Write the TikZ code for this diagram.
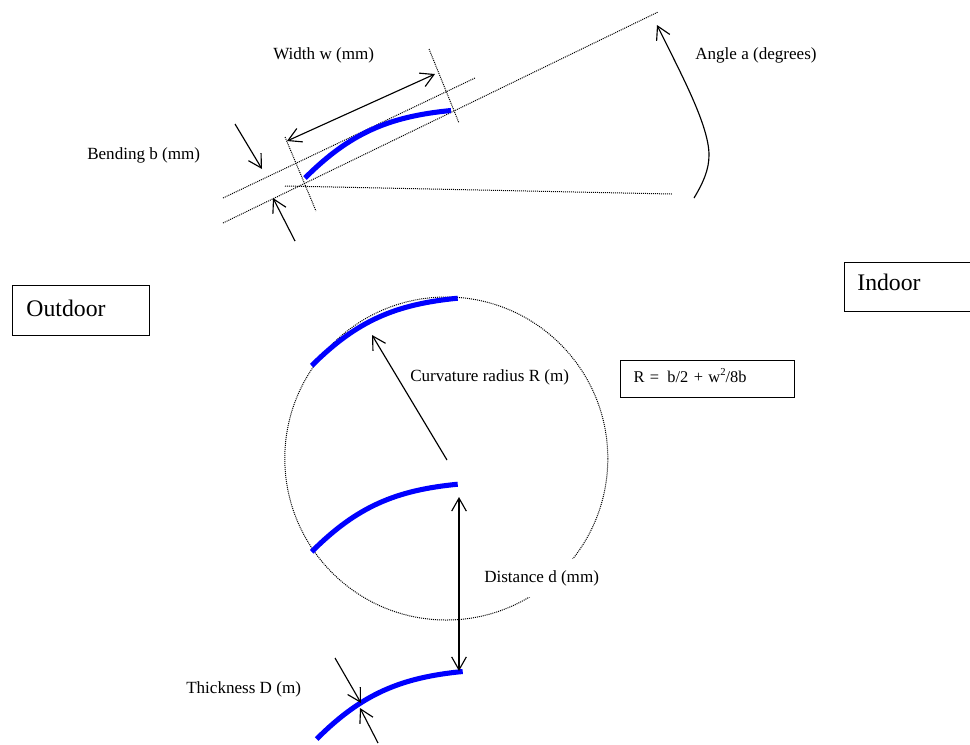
\documentclass[tikz,border=0pt]{standalone}
\usepackage{fontspec}
\setmainfont{Liberation Serif}
\usetikzlibrary{arrows.meta}
\tikzset{
  >={Straight Barb[length=9.7pt,width=11pt]},
  dotline/.style={line width=0.75pt,dash pattern=on 0.75pt off 0.75pt},
  dimline/.style={line width=0.85pt},
  blade/.style={line width=3.8pt,blue},
  lbl/.style={font=\fontsize{12.8}{15}\selectfont,inner sep=0pt,anchor=west},
  roombox/.style={draw,line width=0.75pt,anchor=north west,inner sep=0pt,align=left,font=\fontsize{17.8}{21}\selectfont},
}
\begin{document}
\begin{tikzpicture}[x=0.75pt,y=-0.75pt]
\useasboundingbox(0,0)rectangle(970,744);
%
\draw[dotline](223,198)--(475,78);
\draw[dotline](223,223)--(658,12);
\draw[dotline](285,137)--(316,211);
\draw[dotline](429,49)--(459,123);
\draw[dotline](285,186)--(672,194);
\draw[dotline](446.3,458.5)circle(161.5);
%
\foreach \bx/\by in {305/178,311.7/365.7,311.7/551.7,316.7/739}
  \draw[blade](\bx,\by)..controls +(45,-45) and +(-62,6)..+(146,-67.5);
%
\coordinate(wl)at(287,141);
\coordinate(wr)at(435,74);
\coordinate(bt)at(235,124);
\coordinate(bth)at(262,169);
\coordinate(bb)at(295,241);
\coordinate(bbh)at(273,198);
\coordinate(ab)at(694,198);
\coordinate(am)at(709,155);
\coordinate(at)at(657,25);
\coordinate(rb)at(447,460);
\coordinate(rt)at(372,335);
\coordinate(dt)at(459,497);
\coordinate(db)at(459,671);
\coordinate(tt)at(335,658);
\coordinate(tth)at(361,703);
\coordinate(tb)at(378,743);
\coordinate(tbh)at(360,708);
%
\draw[dimline,<->](wl)--(wr);
\draw[dimline,->](bt)--(bth);
\draw[dimline,->](bb)--(bbh);
\draw[dimline,->](ab)..controls(703,183)and(709,170)..(am)..controls(709,125)and(680,72)..(at);
\draw[dimline,->](rb)--(rt);
\draw[dimline,<->](dt)--(db);
\draw[dimline,->](tt)--(tth);
\draw[dimline,->](tb)--(tbh);
%
\node[lbl](width)at(273,55.5){Width w (mm)};
\node[lbl](bending)at(87,155.5){Bending b (mm)};
\node[lbl](angle)at(695,55.5){Angle a (degrees)};
\node[lbl](curv)at(410,377.5){Curvature radius R (m)};
\node[lbl,fill=white,minimum height=29pt](dist)at(484,578){Distance d (mm)};
\node[lbl](thick)at(186,689.5){Thickness D (m)};
%
\node[roombox,minimum width=102.75pt,minimum height=37.5pt,text width=92pt,text depth=4pt](outdoor)at(12,285){\hspace*{5.1pt}Outdoor};
\node[roombox,minimum width=96pt,minimum height=36.75pt,text width=90pt,text depth=6pt](indoor)at(843.5,261.5){\hspace*{7pt}Indoor};
\node[draw,line width=0.75pt,anchor=north west,inner sep=0pt,minimum width=130.5pt,minimum height=28pt,text width=120pt,text depth=5pt,align=left,font=\fontsize{12.3}{15}\selectfont](formula)at(620,360){\hspace*{4.5pt}R =\ \,b/2 + w\raisebox{0.42em}{\fontsize{8}{8}\selectfont 2}/8b};
\end{tikzpicture}
\end{document}
